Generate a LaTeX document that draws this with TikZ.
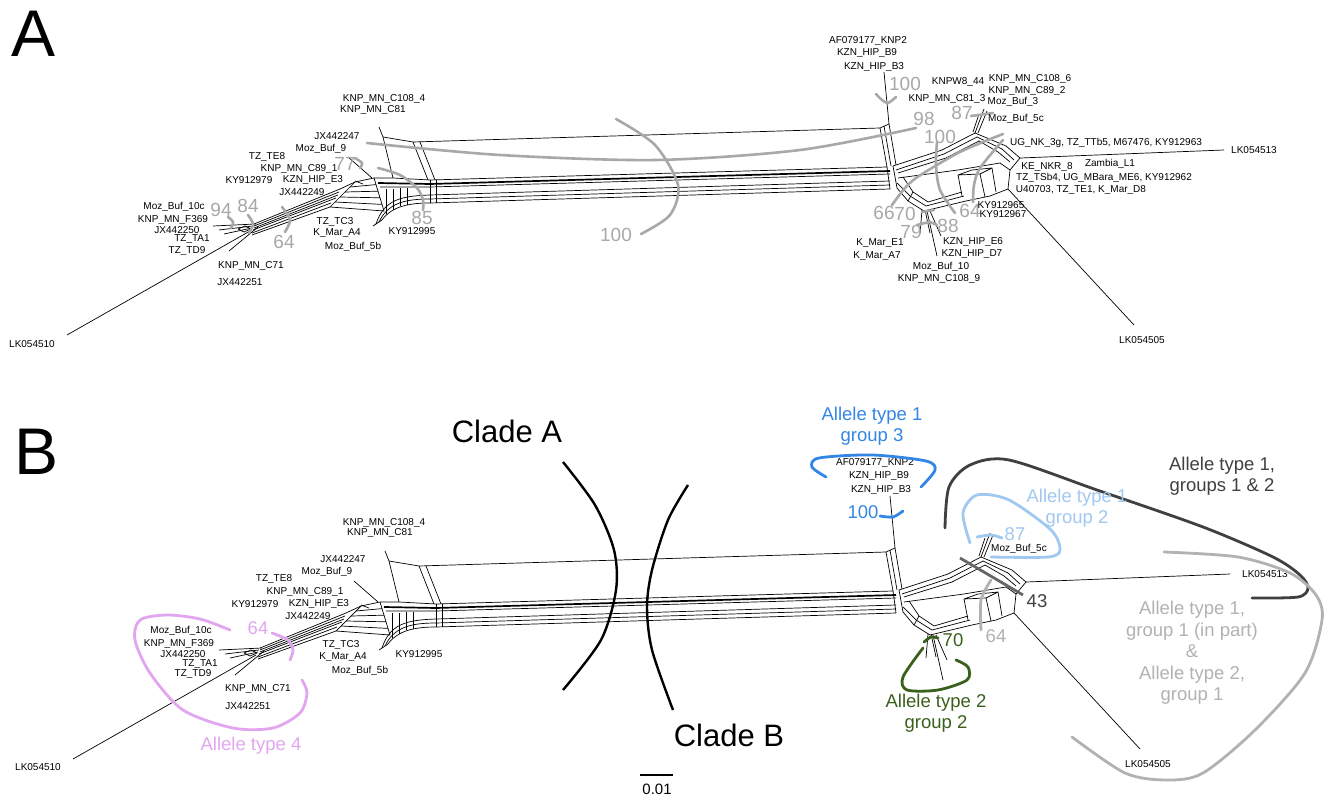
\documentclass[tikz,border=0pt]{standalone}
\usepackage{fontspec}
\setmainfont{Liberation Sans}
\usetikzlibrary{calc}
\definecolor{bsgrey}{RGB}{168,168,168}
\definecolor{ltgrey}{RGB}{178,178,178}
\definecolor{dkgrey}{RGB}{64,64,64}
\definecolor{alblue}{RGB}{52,134,230}
\definecolor{lblue}{RGB}{160,200,240}
\definecolor{algreen}{RGB}{58,96,30}
\definecolor{alpink}{RGB}{226,166,240}
\newcommand{\splitsnet}{%
% left outgroup and pendants
\draw[nl] (67,335) -- (250,231);
\draw[nl] (213,226) -- (256,224);
\draw[nl] (219,230) -- (253,226);
\draw[nl] (224,234) -- (252,228);
\draw[nl] (229,251) -- (258,227);
\draw[nl] (238,229) -- (245,226) -- (251,229) -- (244,232) -- cycle;
% left band
\draw[nl] (254,224) -- (340,189);
\draw[nl] (254,226) -- (339,192);
\draw[nl] (254,228) -- (338,195);
\draw[nl] (253,230) -- (336,198);
\draw[nl] (252,233) -- (331,203);
\draw[nl] (252,235) -- (330,207);
% striped box
\draw[nl] (340,189) -- (355,182) -- (374,178);
\draw[nl] (355,182) -- (330,207) -- (384,211) -- (374,178);
\foreach \t in {0.2,0.4,0.6,0.8}{\draw[nl] ($(355,182)!\t!(330,207)$) -- ($(374,178)!\t!(384,211)$);}
\draw[nl] (348,157) -- (372,178);
\draw[nl] (355,181) -- (363,184);
% top-left parallelogram
\draw[nl] (379,127) -- (383,137) -- (413,142) -- (880,128) -- (889,124);
\draw[nl] (383,137) -- (393,178);
\draw[nl] (413,142) -- (428,180);
\draw[nl] (420,142) -- (435,180);
\draw[nl] (884,72) -- (889,124);
\draw[nl] (880,128) -- (887,167);
\draw[nl] (884,126) -- (891,166);
\draw[nl] (889,124) -- (896,165);
% main band
\draw[nl] (374,178) -- (393,178) -- (430,180) -- (887,167);
\draw[thk] (378,183) -- (430,184) -- (890,171);
\draw[nl] (380,187) -- (430,187) -- (890,174);
\draw[nl] (376,224) .. controls (384,200) and (400,196) .. (430,195) -- (890,181);
\draw[nl] (379,222) .. controls (388,203) and (405,199) .. (430,199) -- (890,185);
\draw[nl] (382,220) .. controls (392,206) and (410,203) .. (430,203) -- (890,189);
\draw[nl] (373,226) -- (376,224) -- (382,220);
\foreach \x/\a/\b in {386/189/214,393/189/210,400/188/206,407/188/205,430/180/203,436/180/203}{\draw[nl] (\x,\a) -- (\x,\b);}
\draw[nl] (887,167) -- (890,189);
\draw[nl] (893,166) -- (897,188);
% right hub
\draw[nl] (893,166) -- (942,150) -- (975,133);
\draw[nl] (896,170) -- (944,154) -- (977,137);
\draw[nl] (898,173) -- (946,158) -- (979,141);
\draw[nl] (975,133) -- (1006,146) -- (1020,158);
\draw[nl] (977,137) -- (1002,149) -- (1014,160);
\draw[nl] (979,141) -- (998,152) -- (1010,162);
\draw[nl] (1020,158) -- (1010,170) -- (1008,189);
\draw[nl] (898,178) -- (958,170) -- (1000,163);
\draw[nl] (897,188) -- (908,201) -- (924,211) -- (966,201) -- (990,196) -- (1008,189);
\draw[nl] (897,183) -- (910,196) -- (926,206) -- (964,196);
\draw[nl] (903,177) -- (913,192) -- (928,202) -- (962,192);
\draw[nl] (908,201) -- (913,192);
\draw[nl] (958,175) -- (972,170) -- (992,168) -- (980,174) -- cycle;
\draw[nl] (958,175) -- (962,196);
\draw[nl] (980,174) -- (985,197);
\draw[nl] (992,168) -- (996,192);
\draw[nl] (1000,163) -- (1010,170);
% pendants
\draw[nl] (975,133) -- (984,109);
\draw[nl] (978,133) -- (987,111);
\draw[nl] (973,132) -- (979,114);
\draw[nl] (922,210) -- (920,234);
\draw[nl] (925,210) -- (930,233);
\draw[nl] (927,211) -- (937,256);
\draw[nl] (930,211) -- (941,236);
\draw[nl] (1020,158) -- (1224,150);
\draw[nl] (1008,189) -- (1134,325);
}
\begin{document}
\begin{tikzpicture}[x=1pt,y=-1pt,
  nl/.style={line width=0.7pt, black, line join=round},
  thk/.style={line width=1.7pt, black},
  lab/.style={font=\fontsize{10}{10}\selectfont, inner sep=0pt},
  bs/.style={font=\fontsize{19}{20}\selectfont, text=bsgrey, inner sep=0pt},
  bsarc/.style={line width=2.6pt, draw=bsgrey, line cap=round},
  big/.style={font=\fontsize{18.5}{21.5}\selectfont, inner sep=0pt, align=center},
  loop/.style={line width=2.8pt, line cap=round}]
\useasboundingbox[fill=white] (0,0) rectangle (1332,799);
% ================= panel A =================
\node[font=\fontsize{66}{66}\selectfont, inner sep=0pt] (pA) at (34,34) {A};
\splitsnet
% grey bootstrap arcs
\draw[bsarc] plot[smooth] coordinates {(228,217) (233,222) (231,228)};
\draw[bsarc] plot[smooth] coordinates {(248,215) (253,224) (249,233)};
\draw[bsarc] plot[smooth] coordinates {(282,207) (290,220) (285,232)};
\draw[bsarc] plot[smooth] coordinates {(355,158) (362,163) (360,168)};
\draw[bsarc] plot[smooth] coordinates {(378,168) (400,175) (417,188) (423,200) (423,210)};
\draw[bsarc] plot[smooth] coordinates {(367,143) (500,155) (656,160) (800,150) (916,128)};
\draw[bsarc] plot[smooth] coordinates {(616,119) (655,145) (678,185) (670,215) (641,234)};
\draw[bsarc] plot[smooth] coordinates {(876,94) (882,100) (888,103) (896,97)};
\draw[bsarc] plot[smooth] coordinates {(937,142) (936,165) (940,190) (955,213)};
\draw[bsarc] plot[smooth] coordinates {(892,205) (905,188) (919,176) (960,152) (1003,134)};
\draw[bsarc] plot[smooth] coordinates {(973,202) (974,185) (980,168) (1003,140)};
\draw[bsarc] (971,116) -- (993,113);
\draw[bsarc] (922,212) -- (934,210);
\draw[bsarc] (917,225) -- (929,222);
\draw[bsarc] (930,222) -- (937,225);
\node[bs] (g94) at (221,210) {94};
\node[bs] (g84) at (248,206) {84};
\node[bs] (g64a) at (284,242) {64};
\node[bs] (g77) at (345,164) {77};
\node[bs] (g85) at (422,218) {85};
\node[bs] (g100a) at (616,235) {100};
\node[bs] (g100b) at (905,84) {100};
\node[bs] (g98) at (924,119) {98};
\node[bs] (g100c) at (940,137) {100};
\node[bs] (g87) at (962,113) {87};
\node[bs] (g66) at (884,213) {66};
\node[bs] (g70) at (905,214) {70};
\node[bs] (g79) at (911,232) {79};
\node[bs] (g88) at (948,226) {88};
\node[bs] (g64b) at (970,211) {64};
% labels panel A
\node[lab] (a1) at (384,99) {KNP\_MN\_C108\_4};
\node[lab] (a2) at (373,110) {KNP\_MN\_C81};
\node[lab] (a3) at (337,136) {JX442247};
\node[lab] (a4) at (321,149) {Moz\_Buf\_9};
\node[lab] (a5) at (267,157) {TZ\_TE8};
\node[lab] (a6) at (299,169) {KNP\_MN\_C89\_1};
\node[lab] (a7) at (249,180) {KY912979};
\node[lab] (a8) at (313,180) {KZN\_HIP\_E3};
\node[lab] (a9) at (302,192) {JX442249};
\node[lab] (a10) at (174,207) {Moz\_Buf\_10c};
\node[lab] (a11) at (173,220) {KNP\_MN\_F369};
\node[lab] (a12) at (177,230) {JX442250};
\node[lab] (a13) at (192,239) {TZ\_TA1};
\node[lab] (a14) at (187,251) {TZ\_TD9};
\node[lab] (a15) at (251,266) {KNP\_MN\_C71};
\node[lab] (a16) at (240,282) {JX442251};
\node[lab] (a17) at (335,222) {TZ\_TC3};
\node[lab] (a18) at (337,233) {K\_Mar\_A4};
\node[lab] (a19) at (353,247) {Moz\_Buf\_5b};
\node[lab] (a20) at (412,231) {KY912995};
\node[lab] (a21) at (32,344) {LK054510};
\node[lab] (a22) at (868,41) {AF079177\_KNP2};
\node[lab] (a23) at (867,53) {KZN\_HIP\_B9};
\node[lab] (a24) at (874,67) {KZN\_HIP\_B3};
\node[lab] (a25) at (958,82) {KNPW8\_44};
\node[lab] (a26) at (1030,79) {KNP\_MN\_C108\_6};
\node[lab] (a27) at (1027,91) {KNP\_MN\_C89\_2};
\node[lab] (a28) at (947,99) {KNP\_MN\_C81\_3};
\node[lab] (a29) at (1013,102) {Moz\_Buf\_3};
\node[lab] (a30) at (1016,119) {Moz\_Buf\_5c};
\node[lab,fill=white,inner ysep=1pt] (a31) at (1106,143) {UG\_NK\_3g, TZ\_TTb5, M67476, KY912963};
\node[lab] (a32) at (1254,150) {LK054513};
\node[lab] (a33) at (1047,167) {KE\_NKR\_8};
\node[lab] (a34) at (1110,164) {Zambia\_L1};
\node[lab] (a35) at (1104,178) {TZ\_TSb4, UG\_MBara\_ME6, KY912962};
\node[lab] (a36) at (1081,190) {U40703, TZ\_TE1, K\_Mar\_D8};
\node[lab] (a37) at (1001,205) {KY912965};
\node[lab] (a38) at (1003,214) {KY912967};
\node[lab] (a39) at (880,243) {K\_Mar\_E1};
\node[lab] (a40) at (877,256) {K\_Mar\_A7};
\node[lab] (a41) at (973,242) {KZN\_HIP\_E6};
\node[lab] (a42) at (972,254) {KZN\_HIP\_D7};
\node[lab] (a43) at (941,267) {Moz\_Buf\_10};
\node[lab] (a44) at (939,279) {KNP\_MN\_C108\_9};
\node[lab] (a45) at (1142,340) {LK054505};
% ================= panel B =================
\node[font=\fontsize{66}{66}\selectfont, inner sep=0pt] (pB) at (37,452) {B};
\begin{scope}[shift={(6,424)}]
\splitsnet
\end{scope}
\node[lab] (b1) at (384,523) {KNP\_MN\_C108\_4};
\node[lab] (b2) at (380,533) {KNP\_MN\_C81};
\node[lab] (b3) at (343,559) {JX442247};
\node[lab] (b4) at (327,572) {Moz\_Buf\_9};
\node[lab] (b5) at (274,579) {TZ\_TE8};
\node[lab] (b6) at (305,592) {KNP\_MN\_C89\_1};
\node[lab] (b7) at (255,604) {KY912979};
\node[lab] (b8) at (319,604) {KZN\_HIP\_E3};
\node[lab] (b9) at (308,616) {JX442249};
\node[lab] (b10) at (181,631) {Moz\_Buf\_10c};
\node[lab] (b11) at (179,644) {KNP\_MN\_F369};
\node[lab] (b12) at (183,654) {JX442250};
\node[lab] (b13) at (200,664) {TZ\_TA1};
\node[lab] (b14) at (193,674) {TZ\_TD9};
\node[lab] (b15) at (258,689) {KNP\_MN\_C71};
\node[lab] (b16) at (248,706) {JX442251};
\node[lab] (b17) at (341,645) {TZ\_TC3};
\node[lab] (b18) at (343,657) {K\_Mar\_A4};
\node[lab] (b19) at (360,671) {Moz\_Buf\_5b};
\node[lab] (b20) at (419,654) {KY912995};
\node[lab] (b21) at (38,767) {LK054510};
\node[lab] (b22) at (875,463) {AF079177\_KNP2};
\node[lab] (b23) at (879,476) {KZN\_HIP\_B9};
\node[lab] (b24) at (881,490) {KZN\_HIP\_B3};
\node[lab] (b25) at (1019,549) {Moz\_Buf\_5c};
\node[lab] (b26) at (1265,574) {LK054513};
\node[lab] (b27) at (1148,764) {LK054505};
% clades
\draw[line width=2.4pt] plot[smooth] coordinates {(563,462) (595,505) (614,550) (616,590) (601,640) (563,690)};
\draw[line width=2.4pt] plot[smooth] coordinates {(688,485) (668,520) (652,570) (647,607) (652,650) (673,710)};
\node[font=\fontsize{31}{31}\selectfont, inner sep=0pt] (cA) at (507,431) {Clade A};
\node[font=\fontsize{31}{31}\selectfont, inner sep=0pt] (cB) at (729,735) {Clade B};
% scale bar
\coordinate (s1) at (640,775); \coordinate (s2) at (673,775);
\draw[line width=2pt] (s1) -- (s2);
\node[font=\fontsize{15}{15}\selectfont, inner sep=0pt] (sc) at (657,789) {0.01};
% allele type 4
\draw[loop, alpink] plot[smooth] coordinates {(230,630) (200,619) (167,615) (140,620) (135,640) (150,673) (183,710) (233,728) (273,728) (300,713) (307,693) (302,680)};
\draw[loop, alpink] plot[smooth] coordinates {(272,633) (288,640) (293,650) (290,660)};
\node[big, text=alpink] (p64) at (258,628) {64};
\node[big, text=alpink] (pal) at (251,746) {Allele type 4};
% allele type 1 group 3
\draw[loop, alblue] plot[smooth] coordinates {(826,477) (812,467) (819,458) (872,455) (926,461) (935,470) (921,487)};
\draw[loop, alblue] plot[smooth] coordinates {(880,516) (893,517) (903,511)};
\node[big, text=alblue] (bl100) at (863,512) {100};
\node[big, text=alblue] (bl) at (872,426) {Allele type 1\\group 3};
% allele type 1 groups 1 & 2
\draw[loop, dkgrey] plot[smooth] coordinates {(945,528) (949,487) (970,465) (1009,460) (1097,490) (1203,527) (1273,557) (1300,575) (1308,588) (1298,597) (1252,598)};
\node[big, text=dkgrey] (dk) at (1222,476) {Allele type 1,\\groups 1 \& 2};
% allele type 1 group 2
\draw[loop, lblue] plot[smooth] coordinates {(970,543) (963,513) (977,495) (1009,500) (1051,530) (1060,550) (1048,557) (991,557)};
\draw[loop, lblue] plot[smooth] coordinates {(977,537) (991,535) (1002,538)};
\node[big, text=lblue] (lb87) at (1015,534) {87};
\node[big, text=lblue] (lb) at (1077,508) {Allele type 1\\group 2};
% 43 bar
\draw[line width=2.8pt, dkgrey!80] (960,558) -- (1023,595);
\node[big, text=dkgrey] (n43) at (1037,601) {43};
% light grey loop
\draw[loop, ltgrey] plot[smooth] coordinates {(1164,552) (1238,557) (1290,573) (1316,595) (1322,620) (1305,673) (1255,730) (1203,773) (1167,780) (1125,773) (1072,737)};
\draw[loop, ltgrey] plot[smooth] coordinates {(991,580) (981,600) (981,630)};
\node[big, text=ltgrey] (lg64) at (996,636) {64};
\node[big, text=ltgrey] (lg) at (1192,653) {Allele type 1,\\group 1 (in part)\\\&\\Allele type 2,\\group 1};
% allele type 2 group 2
\draw[loop, algreen] plot[smooth] coordinates {(923,648) (903,677) (907,690) (938,690) (967,680) (968,667) (956,660)};
\draw[loop, algreen] plot[smooth] coordinates {(924,642) (931,637) (938,638)};
\node[big, text=algreen] (g70b) at (953,640) {70};
\node[big, text=algreen] (gr) at (936,713) {Allele type 2\\group 2};
\end{tikzpicture}
\end{document}
